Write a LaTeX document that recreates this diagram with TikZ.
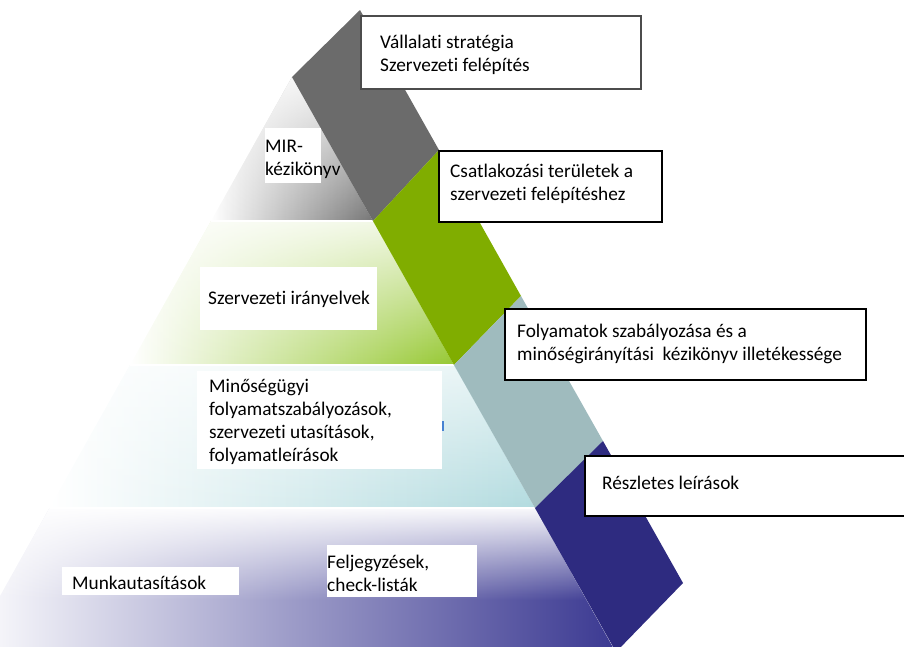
\documentclass[tikz,border=0pt]{standalone}
\usepackage{fontspec}
\setmainfont{Carlito}[Ligatures=NoCommon]
\usetikzlibrary{fit,fadings}

\definecolor{bandgray}{RGB}{107,107,107}
\definecolor{bandgreen}{RGB}{128,173,0}
\definecolor{bandteal}{RGB}{159,187,190}
\definecolor{bandnavy}{RGB}{46,43,128}
\definecolor{tiergray}{RGB}{118,118,118}
\definecolor{tiergreen}{RGB}{150,200,50}
\definecolor{tierteal}{RGB}{178,219,223}
\definecolor{tierpurple}{RGB}{58,56,145}
\definecolor{tierpurplemid}{RGB}{196,196,222}
\definecolor{tickblue}{RGB}{70,130,210}

% white veil: opaque at the top of the area it covers, clear at its bottom
\tikzfading[name=veil, top color=transparent!0, bottom color=transparent!100]

\newcommand{\lns}[1]{\begin{tabular}[t]{@{}l@{}}#1\end{tabular}}

\begin{document}
\begin{tikzpicture}[x=1pt,y=-1pt,
  txt/.style={anchor=base west, inner sep=0pt, text=black,
              font=\fontsize{19.3pt}{23.3pt}\selectfont},
  framebox/.style={draw=black, line width=1.6pt, fill=white, inner sep=0pt},
  softframe/.style={draw=black!70, line width=1.2pt, fill=white, inner sep=0pt},
  plate/.style={fill=white, draw=none, inner sep=0pt},
  tiergap/.style={draw=white, line width=1.6pt}]

\useasboundingbox (0,0) rectangle (904,646);
\clip (0,0) rectangle (904,646);

% pyramid outline points (left edge and the edge under the band)
\coordinate (A)  at (292,77);
\coordinate (L1) at (211,221);  \coordinate (R1) at (373,221);
\coordinate (L2) at (130,365);  \coordinate (R2) at (454,365);
\coordinate (L3) at (49.5,508); \coordinate (R3) at (535,508);
\coordinate (M3l) at (-2.2,600); \coordinate (M3r) at (586.5,600);
\coordinate (L4) at (-36,660);  \coordinate (R4) at (620,660);

% band right edge points
\coordinate (T0) at (360,10);
\coordinate (T1) at (439,150);
\coordinate (T2) at (521,296);
\coordinate (T3) at (603,441);
\coordinate (T4) at (683,583);
\coordinate (B4) at (616,652);

% pyramid tiers: colour grows to the right, white veil fades downwards
\shade[left color=white, right color=tiergray] (A) -- (R1) -- (L1) -- cycle;
\fill[white, path fading=veil, fill opacity=0.9] (A) -- (R1) -- (L1) -- cycle;

\shade[left color=white, right color=tiergreen] (L1) -- (R1) -- (R2) -- (L2) -- cycle;
\fill[white, path fading=veil, fill opacity=0.85] (L1) -- (R1) -- (R2) -- (L2) -- cycle;

\shade[left color=white, right color=tierteal] (L2) -- (R2) -- (R3) -- (L3) -- cycle;
\fill[white, path fading=veil, fill opacity=0.7] (L2) -- (R2) -- (R3) -- (L3) -- cycle;

\shade[left color=white, middle color=tierpurplemid, right color=tierpurple]
  (L3) -- (R3) -- (R4) -- (L4) -- cycle;
\fill[white, path fading=veil, fill opacity=0.97] (L3) -- (R3) -- (M3r) -- (M3l) -- cycle;

\draw[tiergap] (L1) -- (R1);
\draw[tiergap] (L2) -- (R2);
\draw[tiergap] (L3) -- (R3);

% diagonal band
\fill[bandgray]  (A)  -- (T0) -- (T1) -- (R1) -- cycle;
\fill[bandgreen] (R1) -- (T1) -- (T2) -- (R2) -- cycle;
\fill[bandteal]  (R2) -- (T2) -- (T3) -- (R3) -- cycle;
\fill[bandnavy]  (R3) -- (T3) -- (T4) -- (B4) -- cycle;

% white plates behind the pyramid labels
\node[plate, fit={(265,128) (321,183)}] (pmir) {};
\node[plate, fit={(200,267) (377,330)}] (pira) {};
\node[plate, fit={(197,371) (442,469)}] (pmin) {};
\node[plate, fit={(62,567) (239,595)}]  (pmun) {};
\node[plate, fit={(327,545) (477,597)}] (pfel) {};
\draw[tickblue, line width=1.4pt] (443,421) -- (443,431);

% pyramid labels
\node[txt] (mir) at (265,152) {\lns{MIR-\\kézikönyv}};
\node[txt] (ira) at (208,304) {Szervezeti irányelvek};
\node[txt] (min) at (209,392) {\lns{Minőségügyi\\folyamatszabályozások,\\szervezeti utasítások,\\folyamatleírások}};
\node[txt] (mun) at (72,589) {Munkautasítások};
\node[txt] (fel) at (327,568) {\lns{Feljegyzések,\\check-listák}};

% framed boxes on the right
\node[softframe, fit={(361,16) (641,89)}] (b1) {};
\node[framebox, fit={(439,151) (662,222)}] (b2) {};
\node[framebox, fit={(505,309) (866,380)}] (b3) {};
\node[framebox, fit={(585,456) (920,516)}] (b4) {};

\node[txt] (t1) at (380,48)  {\lns{Vállalati stratégia\\Szervezeti felépítés}};
\node[txt] (t2) at (450,177) {\lns{Csatlakozási területek a\\szervezeti felépítéshez}};
\node[txt] (t3) at (517,337) {\lns{Folyamatok szabályozása és a\\minőségirányítási\ \ kézikönyv illetékessége}};
\node[txt] (t4) at (602,489) {Részletes leírások};

\end{tikzpicture}
\end{document}
